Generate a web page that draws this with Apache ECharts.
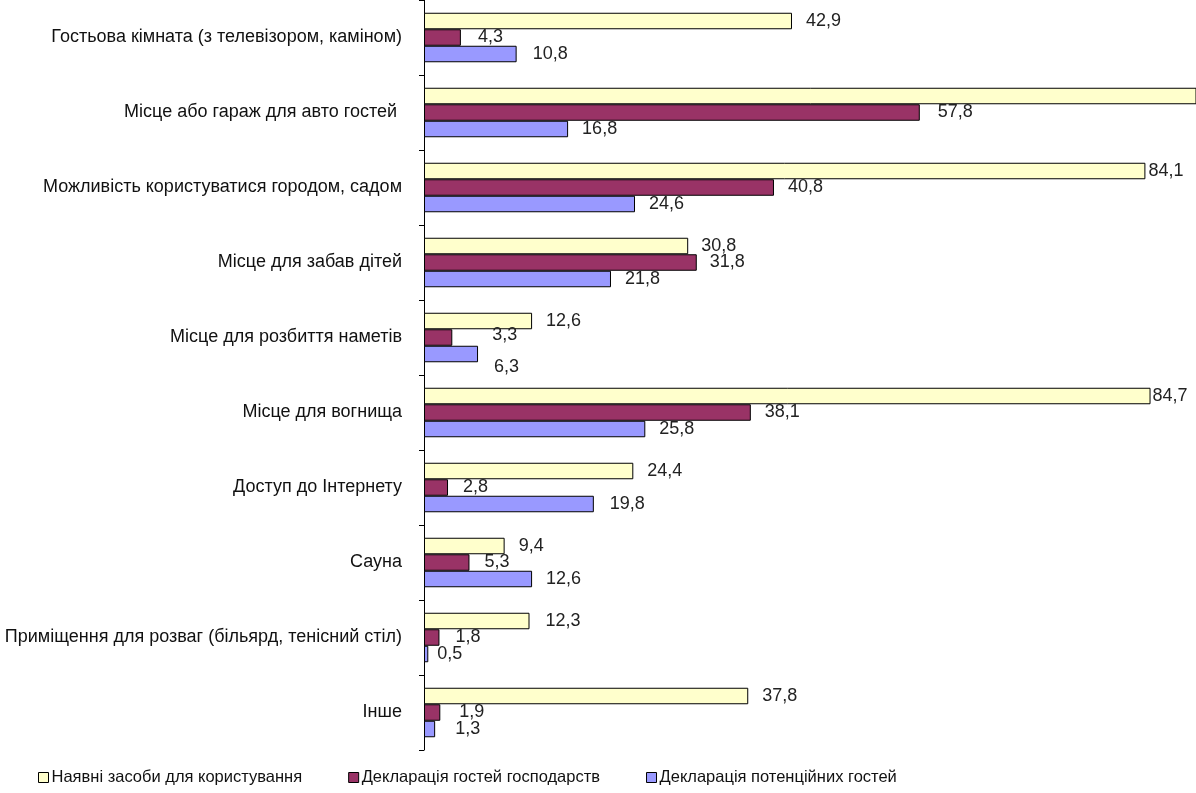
<!DOCTYPE html>
<html>
<head>
<meta charset="utf-8">
<script src="https://cdn.jsdelivr.net/npm/echarts@6/dist/echarts.min.js"></script>
<style>
html,body{margin:0;padding:0;background:#fff;}
#chart{width:1196px;height:793px;}
</style>
</head>
<body>
<div id="chart"></div>
<script>
const categories = [
  'Гостьова кімната (з телевізором, каміном)',
  'Місце або гараж для авто гостей ',
  'Можливість користуватися городом, садом',
  'Місце для забав дітей',
  'Місце для розбиття наметів',
  'Місце для вогнища',
  'Доступ до Інтернету',
  'Сауна',
  'Приміщення для розваг (більярд, тенісний стіл)',
  'Інше'
];
const seriesNames = [
  'Наявні засоби для користування',
  'Декларація гостей господарств',
  'Декларація потенційних гостей'
];
const available = [42.9, 92.0, 84.1, 30.8, 12.6, 84.7, 24.4, 9.4, 12.3, 37.8];
const hostGuests = [4.3, 57.8, 40.8, 31.8, 3.3, 38.1, 2.8, 5.3, 1.8, 1.9];
const potentialGuests = [10.8, 16.8, 24.6, 21.8, 6.3, 25.8, 19.8, 12.6, 0.5, 1.3];

/* label placement tweaks (styling only): [distance, dy] in pixels */
const labelShift = [
  [[14,0],[14,0],[3,0],[13,0],[14,0],[2,0],[14,0],[14,0],[16,0],[14,0]],
  [[17,0],[18,0],[14,0],[13,0],[40,-2],[14,0],[15,0],[15,0],[16,0],[19,0]],
  [[16,0],[14,0],[14,0],[14,0],[16,13],[14,0],[16,0],[14,0],[9,0],[20,0]]
];

const colors = ['#FFFFCC', '#993366', '#9999FF'];
const fontFam = '"Liberation Sans", Arial, sans-serif';

function fmt(p){ return p.value.toFixed(1).replace('.', ','); }

function mkSeries(si, data){
  return {
    name: seriesNames[si],
    type: 'bar',
    data: data.map((v, i) => ({
      value: v,
      label: {distance: labelShift[si][i][0], offset: [0, labelShift[si][i][1]]}
    })),
    barWidth: 16.5,
    barGap: '0%',
    itemStyle: {color: colors[si], borderColor: '#000', borderWidth: 1},
    label: {
      show: true, position: 'right', distance: 14,
      formatter: fmt, color: '#222', fontSize: 18, fontFamily: fontFam
    }
  };
}

const chart = echarts.init(document.getElementById('chart'), null, {renderer: 'canvas'});
chart.setOption({
  animation: false,
  backgroundColor: '#fff',
  grid: {left: 424, right: 0, top: 0, bottom: 43},
  legend: {
    bottom: 2, left: 33,
    icon: 'rect', itemWidth: 10, itemHeight: 10, itemGap: 46,
    itemStyle: {borderColor: '#000', borderWidth: 1},
    textStyle: {fontSize: 16.5, color: '#111', fontFamily: fontFam, padding: [0,0,0,-2]},
    data: seriesNames
  },
  xAxis: {
    type: 'value', min: 0, max: 90,
    show: false
  },
  yAxis: {
    type: 'category', data: categories, inverse: true,
    axisLine: {show: true, lineStyle: {color: '#000', width: 1}},
    axisTick: {show: true, length: 5, lineStyle: {color: '#000'}},
    axisLabel: {fontSize: 18, color: '#111', fontFamily: fontFam, margin: 22}
  },
  series: [
    mkSeries(0, available),
    mkSeries(1, hostGuests),
    mkSeries(2, potentialGuests)
  ]
});
</script>
</body>
</html>
